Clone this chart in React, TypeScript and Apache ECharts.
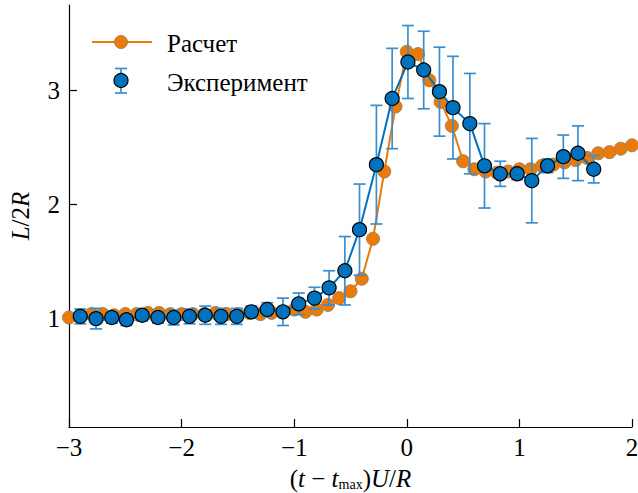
import React, { useEffect, useRef } from "react";
import * as echarts from "echarts";

const calcX = [-3.0, -2.9, -2.8, -2.7, -2.6, -2.5, -2.4, -2.3, -2.2, -2.1, -2.0, -1.9, -1.8, -1.7, -1.6, -1.5, -1.4, -1.3, -1.2, -1.1, -1.0, -0.9, -0.8, -0.7, -0.6, -0.5, -0.4, -0.3, -0.2, -0.1, 0.0, 0.1, 0.2, 0.3, 0.4, 0.5, 0.6, 0.7, 0.8, 0.9, 1.0, 1.1, 1.2, 1.3, 1.4, 1.5, 1.6, 1.7, 1.8, 1.9, 2.0];
const calcY = [1.01, 1.03, 1.04, 1.04, 1.03, 1.04, 1.04, 1.05, 1.05, 1.04, 1.04, 1.04, 1.04, 1.05, 1.04, 1.04, 1.05, 1.04, 1.05, 1.06, 1.08, 1.06, 1.08, 1.12, 1.18, 1.24, 1.35, 1.70, 2.29, 2.86, 3.34, 3.32, 3.09, 2.90, 2.69, 2.38, 2.31, 2.29, 2.28, 2.29, 2.31, 2.31, 2.34, 2.35, 2.37, 2.39, 2.41, 2.45, 2.46, 2.49, 2.52];

const expX = [-2.90, -2.76, -2.62, -2.49, -2.35, -2.21, -2.07, -1.93, -1.79, -1.65, -1.51, -1.38, -1.24, -1.10, -0.96, -0.82, -0.69, -0.55, -0.42, -0.27, -0.13, 0.01, 0.15, 0.29, 0.41, 0.56, 0.69, 0.83, 0.98, 1.11, 1.25, 1.39, 1.52, 1.66];
const expY = [1.02, 1.00, 1.01, 0.99, 1.03, 1.01, 1.01, 1.02, 1.03, 1.02, 1.02, 1.06, 1.08, 1.06, 1.13, 1.18, 1.27, 1.42, 1.78, 2.35, 2.93, 3.25, 3.18, 2.99, 2.85, 2.71, 2.34, 2.27, 2.27, 2.21, 2.34, 2.42, 2.45, 2.31];
const expErr = [0.065, 0.09, 0.05, 0.05, 0.05, 0.05, 0.065, 0.065, 0.08, 0.07, 0.07, 0.05, 0.06, 0.12, 0.095, 0.095, 0.15, 0.30, 0.40, 0.52, 0.44, 0.32, 0.34, 0.39, 0.45, 0.44, 0.37, 0.11, 0.05, 0.37, 0.06, 0.19, 0.24, 0.12];

const xTicks = [-3, -2, -1, 0, 1, 2];
const yTicks = [1, 2, 3];
const legendNames = ["Расчет", "Эксперимент"];

const ORANGE = "#EA7B08";
const ORANGE_EDGE = "#A9805A";
const BLUE = "#0072BD";
const ERR_BLUE = "#3A8ED0";
const FONT = "'Times New Roman', 'Liberation Serif', serif";

export default function App() {
  const ref = useRef<HTMLDivElement>(null);
  useEffect(() => {
    if (!ref.current) return;
    const chart = echarts.init(ref.current, null, { renderer: "svg" });
    const calcData = calcX.map((x, i) => [x, calcY[i]]);
    const expData = expX.map((x, i) => [x, expY[i]]);
    const errData = expX.map((x, i) => [x, expY[i] - expErr[i], expY[i] + expErr[i]]);
    const option: any = {
      animation: false,
      backgroundColor: "#fff",
      grid: { left: 69, right: 6, top: 5, bottom: 66, containLabel: false, outerBoundsMode: "none" },
      xAxis: {
        type: "value",
        min: -3,
        max: 2,
        interval: 1,
        axisLine: { onZero: false, lineStyle: { color: "#000", width: 1.2 } },
        axisTick: { inside: true, length: 8, lineStyle: { color: "#000", width: 1.2 }, customValues: xTicks },
        axisLabel: {
          customValues: xTicks,
          color: "#000",
          fontFamily: FONT,
          fontSize: 25,
          margin: 8,
          formatter: (v: number) => String(v).replace("-", "\u2212"),
        },
        splitLine: { show: false },
        name: "{p|(}{i|t}{p| \u2212 }{i|t}{s|max}{p|)}{i|U}{p|/}{i|R}",
        nameLocation: "middle",
        nameGap: 34,
        nameTextStyle: {
          rich: {
            p: { fontFamily: FONT, fontSize: 25, color: "#000", lineHeight: 30, verticalAlign: "bottom" },
            i: { fontFamily: FONT, fontSize: 25, fontStyle: "italic", color: "#000", lineHeight: 30, verticalAlign: "bottom" },
            s: { fontFamily: FONT, fontSize: 14, color: "#000", lineHeight: 13, verticalAlign: "bottom" },
          },
        },
      },
      yAxis: {
        type: "value",
        min: 0.05,
        max: 3.75,
        axisLine: { onZero: false, lineStyle: { color: "#000", width: 1.2 } },
        axisTick: { inside: true, length: 8, lineStyle: { color: "#000", width: 1.2 }, customValues: yTicks },
        axisLabel: { customValues: yTicks, color: "#000", fontFamily: FONT, fontSize: 25, margin: 9 },
        splitLine: { show: false },
        name: "{i|L}{p|/2}{i|R}",
        nameLocation: "middle",
        nameRotate: 90,
        nameGap: 36,
        nameTextStyle: {
          rich: {
            p: { fontFamily: FONT, fontSize: 25, color: "#000" },
            i: { fontFamily: FONT, fontSize: 25, fontStyle: "italic", color: "#000" },
          },
        },
      },
      series: [
        {
          name: legendNames[0],
          type: "line",
          data: calcData,
          symbol: "circle",
          symbolSize: 13,
          lineStyle: { color: ORANGE, width: 2 },
          itemStyle: { color: ORANGE, borderColor: ORANGE_EDGE, borderWidth: 1 },
          z: 2,
        },
        {
          type: "custom",
          data: errData,
          z: 3,
          renderItem: (params: any, api: any) => {
            const x = api.value(0);
            const lo = api.coord([x, api.value(1)]);
            const hi = api.coord([x, api.value(2)]);
            const w = 6;
            const style = { stroke: ERR_BLUE, lineWidth: 1.7 };
            return {
              type: "group",
              children: [
                { type: "line", shape: { x1: lo[0], y1: lo[1], x2: hi[0], y2: hi[1] }, style },
                { type: "line", shape: { x1: lo[0] - w, y1: lo[1], x2: lo[0] + w, y2: lo[1] }, style },
                { type: "line", shape: { x1: hi[0] - w, y1: hi[1], x2: hi[0] + w, y2: hi[1] }, style },
              ],
            };
          },
        },
        {
          name: legendNames[1],
          type: "line",
          data: expData,
          symbol: "circle",
          symbolSize: 14,
          lineStyle: { color: BLUE, width: 2 },
          itemStyle: { color: BLUE, borderColor: "#000", borderWidth: 1.2 },
          z: 4,
        },
      ],
      graphic: [
        { type: "line", shape: { x1: 92, y1: 42, x2: 152, y2: 42 }, style: { stroke: ORANGE, lineWidth: 2 } },
        { type: "circle", shape: { cx: 121, cy: 42, r: 6.5 }, style: { fill: ORANGE, stroke: ORANGE_EDGE, lineWidth: 1 } },
        { type: "text", x: 167, y: 43, style: { text: legendNames[0], font: `25px ${FONT}`, fill: "#000", verticalAlign: "middle" } },
        { type: "line", shape: { x1: 121, y1: 68.5, x2: 121, y2: 93 }, style: { stroke: ERR_BLUE, lineWidth: 1.7 } },
        { type: "line", shape: { x1: 115, y1: 68.5, x2: 127, y2: 68.5 }, style: { stroke: ERR_BLUE, lineWidth: 1.7 } },
        { type: "line", shape: { x1: 115, y1: 93, x2: 127, y2: 93 }, style: { stroke: ERR_BLUE, lineWidth: 1.7 } },
        { type: "circle", shape: { cx: 121, cy: 80.5, r: 7 }, style: { fill: BLUE, stroke: "#000", lineWidth: 1.2 } },
        { type: "text", x: 167, y: 82, style: { text: legendNames[1], font: `25px ${FONT}`, fill: "#000", verticalAlign: "middle" } },
      ],
    };
    chart.setOption(option);
    return () => chart.dispose();
  }, []);
  return <div ref={ref} style={{ position: "fixed", left: 0, top: 0, width: 638, height: 493 }} />;
}
